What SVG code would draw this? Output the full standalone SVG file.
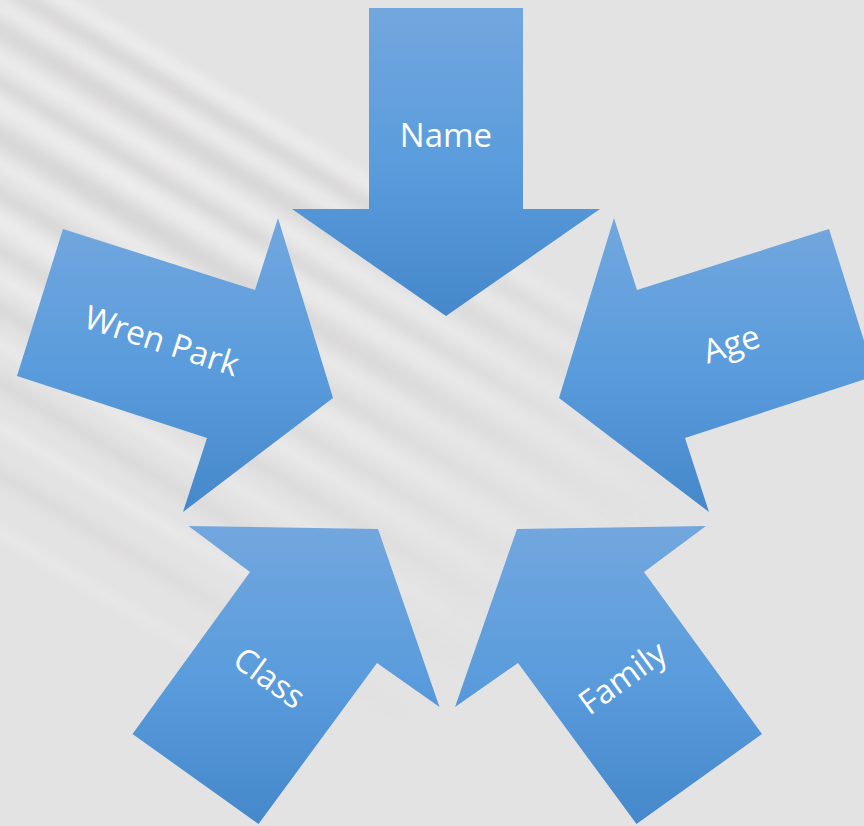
<svg xmlns="http://www.w3.org/2000/svg" width="864" height="826" viewBox="0 0 864 826">
  <defs>
    <linearGradient id="arrowFill" x1="0" y1="0" x2="0" y2="1">
      <stop offset="0" stop-color="#72a7de"/>
      <stop offset="0.5" stop-color="#5a9cdc"/>
      <stop offset="1" stop-color="#4588cb"/>
    </linearGradient>
    <filter id="soft" x="-20%" y="-20%" width="140%" height="140%">
      <feGaussianBlur stdDeviation="5"/>
    </filter>
    <radialGradient id="maskGrad" cx="0.15" cy="0.2" r="0.75">
      <stop offset="0" stop-color="#ffffff" stop-opacity="1"/>
      <stop offset="0.55" stop-color="#ffffff" stop-opacity="0.6"/>
      <stop offset="1" stop-color="#ffffff" stop-opacity="0"/>
    </radialGradient>
    <mask id="streakMask" maskUnits="userSpaceOnUse" x="0" y="0" width="864" height="826">
      <rect x="0" y="0" width="864" height="826" fill="url(#maskGrad)"/>
    </mask>
  </defs>
  <style>
    .arrow { fill: url(#arrowFill); }
    .label { font-family: "Open Sans", "Noto Sans", "DejaVu Sans", sans-serif; font-size: 33px; fill: #ffffff; text-anchor: middle; dominant-baseline: central; }
    .lt { fill: #efeeee; }
    .dk { fill: #d5d4d4; }
  </style>

  <!-- background -->
  <rect x="0" y="0" width="864" height="826" fill="#e4e3e3"/>
  <g mask="url(#streakMask)">
    <g filter="url(#soft)" transform="rotate(31 0 0)" opacity="0.9">
      <rect class="lt" x="-200" y="-40" width="1400" height="14"/>
      <rect class="dk" x="-200" y="-20" width="1400" height="12"/>
      <rect class="lt" x="-200" y="0" width="1400" height="10"/>
      <rect class="dk" x="-200" y="18" width="1400" height="16"/>
      <rect class="lt" x="-200" y="44" width="1400" height="12"/>
      <rect class="dk" x="-200" y="66" width="1400" height="10"/>
      <rect class="lt" x="-200" y="84" width="1400" height="14"/>
      <rect class="dk" x="-200" y="108" width="1400" height="18"/>
      <rect class="lt" x="-200" y="136" width="1400" height="10"/>
      <rect class="dk" x="-200" y="160" width="1400" height="12"/>
      <rect class="lt" x="-200" y="182" width="1400" height="16"/>
      <rect class="dk" x="-200" y="210" width="1400" height="10"/>
      <rect class="lt" x="-200" y="232" width="1400" height="12"/>
      <rect class="dk" x="-200" y="258" width="1400" height="14"/>
      <rect class="lt" x="-200" y="290" width="1400" height="10"/>
      <rect class="dk" x="-200" y="320" width="1400" height="16"/>
      <rect class="lt" x="-200" y="360" width="1400" height="12"/>
      <rect class="dk" x="-200" y="400" width="1400" height="14"/>
      <rect class="lt" x="-200" y="450" width="1400" height="12"/>
    </g>
  </g>

  <g id="connectors"/>

  <g id="node-name">
    <polygon class="arrow" points="369,8 523,8 523,209 600,209 446,316 292,209 369,209"/>
    <text class="label" x="446" y="134">Name</text>
  </g>

  <g id="node-wren-park">
    <polygon class="arrow" points="63,229 255,290 278,218 333,398 183,512 207,438 17,376"/>
    <text class="label" transform="translate(162 340) rotate(18)" x="0" y="0">Wren Park</text>
  </g>

  <g id="node-age">
    <polygon class="arrow" points="829,229 637,290 614,218 559,398 709,512 685,438 875,376"/>
    <text class="label" transform="translate(731 343) rotate(-18)" x="0" y="0">Age</text>
  </g>

  <g id="node-class">
    <polygon class="arrow" points="188.5,526 378,529 439.5,707 377,663 258.5,824 132.5,734 250,572"/>
    <text class="label" transform="translate(270 677) rotate(36)" x="0" y="0">Class</text>
  </g>

  <g id="node-family">
    <polygon class="arrow" points="706,526 517,529 455,707 518,663 636.5,824 762,734 644,572"/>
    <text class="label" transform="translate(622 677) rotate(-36)" x="0" y="0">Family</text>
  </g>
</svg>
